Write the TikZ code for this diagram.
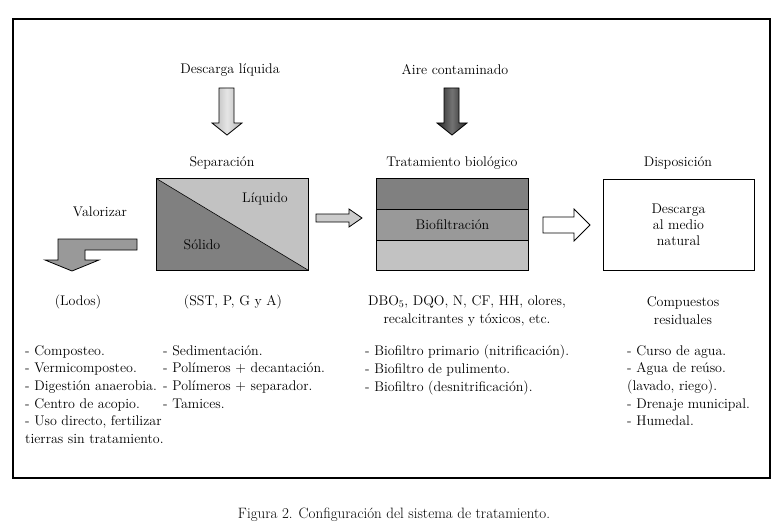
\documentclass[tikz,border=0pt]{standalone}
\usepackage{tikz}
\usetikzlibrary{positioning}

\definecolor{darkfill}{gray}{0.50}
\definecolor{midfill}{gray}{0.60}
\definecolor{lightfill}{gray}{0.76}
\definecolor{arrowfill}{gray}{0.80}

\tikzset{
    lbl/.style={font=\fontsize{14}{18}\selectfont, inner sep=0pt, align=center},
    lst/.style={font=\fontsize{14}{17.7}\selectfont, inner sep=0pt, align=left, anchor=north west},
    blk/.style={draw, line width=0.8pt},
}

\begin{document}
\begin{tikzpicture}[x=1pt, y=-1pt]
    \useasboundingbox (0,0) rectangle (780,527);
    % frame
    \draw[line width=1.4pt] (13,19) rectangle (770,478);

    % inputs
    \node[lbl] (descarga) at (230,70) {Descarga líquida};
    \node[lbl] (aire) at (455,70) {Aire contaminado};
    \draw[blk, left color=gray!60, right color=gray!60, middle color=gray!20]
        (219,88) -- (234,88) -- (234,123) -- (242,123) -- (227,135) -- (212,123) -- (219,123) -- cycle;
    \draw[blk, left color=black!85, right color=black!85, middle color=black!55]
        (444,88) -- (459,88) -- (459,123) -- (467,123) -- (452,135) -- (437,123) -- (444,123) -- cycle;

    % headings
    \node[lbl] (sepTxt) at (222,163) {Separación};
    \node[lbl] (bioTxt) at (452,163) {Tratamiento biológico};
    \node[lbl] (dispTxt) at (678,163) {Disposición};
    \node[lbl] (valTxt) at (100,212) {Valorizar};

    % separation box
    \node[minimum width=151pt, minimum height=91pt, inner sep=0pt] (sep) at (232.5,224.5) {};
    \fill[darkfill] (sep.north west) -- (sep.south east) -- (sep.south west) -- cycle;
    \fill[lightfill] (sep.north west) -- (sep.north east) -- (sep.south east) -- cycle;
    \draw[line width=0.8pt] (sep.north west) rectangle (sep.south east);
    \draw[line width=0.6pt] (sep.north west) -- (sep.south east);
    \node[lbl] (liquido) at (265,199) {Líquido};
    \node[lbl] (solido) at (202,245) {Sólido};

    % biological treatment box
    \node[minimum width=151pt, minimum height=91pt, inner sep=0pt] (bio) at (452.5,224.5) {};
    \fill[darkfill] (bio.north west) rectangle ([yshift=-30pt]bio.north east);
    \fill[midfill] ([yshift=-30pt]bio.north west) rectangle ([yshift=30pt]bio.south east);
    \fill[lightfill] ([yshift=30pt]bio.south west) rectangle (bio.south east);
    \draw[line width=0.8pt] (bio.north west) rectangle (bio.south east);
    \draw[line width=0.6pt] ([yshift=-30pt]bio.north west) -- ([yshift=-30pt]bio.north east);
    \draw[line width=0.6pt] ([yshift=30pt]bio.south west) -- ([yshift=30pt]bio.south east);
    \node[lbl] (biofil) at (bio) {Biofiltración};

    % disposal box
    \node[draw, line width=0.8pt, minimum width=151pt, minimum height=91pt, inner sep=0pt,
          font=\fontsize{14}{16}\selectfont, align=center] (disp) at (678.5,224.5) {Descarga\\al medio\\natural};

    % block arrows
    \draw[blk, fill=arrowfill]
        (316,214) -- (349,214) -- (349,209) -- (362,218) -- (349,227) -- (349,222) -- (316,222) -- cycle;
    \draw[blk, fill=white]
        (543,217) -- (574,217) -- (574,209) -- (590,225) -- (574,241) -- (574,233) -- (543,233) -- cycle;
    \draw[blk, fill=midfill]
        (137,239) -- (137,250) -- (85,250) -- (85,260) -- (99,260) -- (72,271) -- (45,260) -- (58,260) -- (58,239) -- cycle;

    % what is removed
    \node[lbl] (lodos) at (78,302) {(Lodos)};
    \node[lbl] (sst) at (233,302) {(SST, P, G y A)};
    \node[lbl] (dbo) at (467,311) {DBO$_5$, DQO, N, CF, HH, olores,\\recalcitrantes y tóxicos, etc.};
    \node[lbl] (resid) at (683,311) {Compuestos\\residuales};

    % lists
    \node[lst] (lstVal) at (25,345) {- Composteo.\\- Vermicomposteo.\\- Digestión anaerobia.\\- Centro de acopio.\\- Uso directo, fertilizar\\tierras sin tratamiento.};
    \node[lst] (lstSep) at (163,345) {- Sedimentación.\\- Polímeros + decantación.\\- Polímeros + separador.\\- Tamices.};
    \node[lst] (lstBio) at (365,345) {- Biofiltro primario (nitrificación).\\- Biofiltro de pulimento.\\- Biofiltro (desnitrificación).};
    \node[lst] (lstDisp) at (627,345) {- Curso de agua.\\- Agua de reúso.\\(lavado, riego).\\- Drenaje municipal.\\- Humedal.};

    % caption
    \node[lbl, font=\fontsize{15}{17}\selectfont] (caption) at (394,515) {Figura 2. Configuración del sistema de tratamiento.};
\end{tikzpicture}
\end{document}
